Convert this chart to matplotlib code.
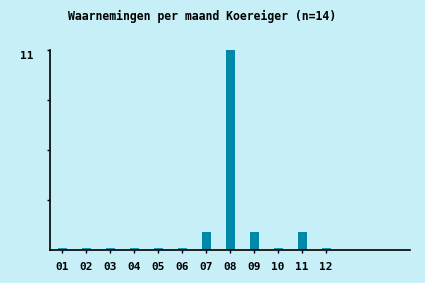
import matplotlib
matplotlib.use("Agg")
import matplotlib.pyplot as plt
import matplotlib.transforms as mtrans
import numpy as np

months = ["01", "02", "03", "04", "05", "06", "07", "08", "09", "10", "11", "12"]
counts = [0, 0, 0, 0, 0, 0, 1, 11, 1, 0, 1, 0]
title = "Waarnemingen per maand Koereiger (n=14)"
ymax = 11

bg = "#c6eff8"
bar_color = "#0088a9"
stub_color = "#1a9ab6"

fig = plt.figure(figsize=(4.25, 2.83), dpi=100, facecolor=bg)
ax = fig.add_axes([50/425, 33/283, 360/425, 200/283])
ax.set_facecolor(bg)

x = np.arange(len(months))
vals = np.array(counts, dtype=float)
ax.bar(x, vals, width=0.375, color=bar_color, zorder=2)
zero = vals == 0
ax.bar(x[zero], np.full(zero.sum(), 0.11), width=0.375, color=stub_color, zorder=2)

ax.set_xlim(-0.5, 14.5)
ax.set_ylim(0, ymax)
for s in ["top", "right"]:
    ax.spines[s].set_visible(False)
for s in ["left", "bottom"]:
    ax.spines[s].set_color("black")
    ax.spines[s].set_linewidth(1.2)

font = dict(family="DejaVu Sans Mono", weight="bold", size=8)
ax.set_xticks(x)
ax.set_xticklabels(months, **font)
ax.set_yticks([ymax * k / 4 for k in range(1, 5)])
ax.set_yticklabels(["", "", "", str(ymax)], **font)
ax.tick_params(axis="x", length=2.5, width=1, pad=6.5, color="black")
ax.tick_params(axis="y", length=2.5, width=1, pad=9.5, color="black")
for lbl in ax.get_yticklabels():
    lbl.set_va("top")
    lbl.set_transform(lbl.get_transform() + mtrans.ScaledTranslation(0, -1.5/100, fig.dpi_scale_trans))

fig.text(202/425, 1 - 16/283, title, ha="center", va="center",
         family="DejaVu Sans Mono", weight="bold", size=8.3)

fig.savefig("out.png", dpi=100, facecolor=bg)
